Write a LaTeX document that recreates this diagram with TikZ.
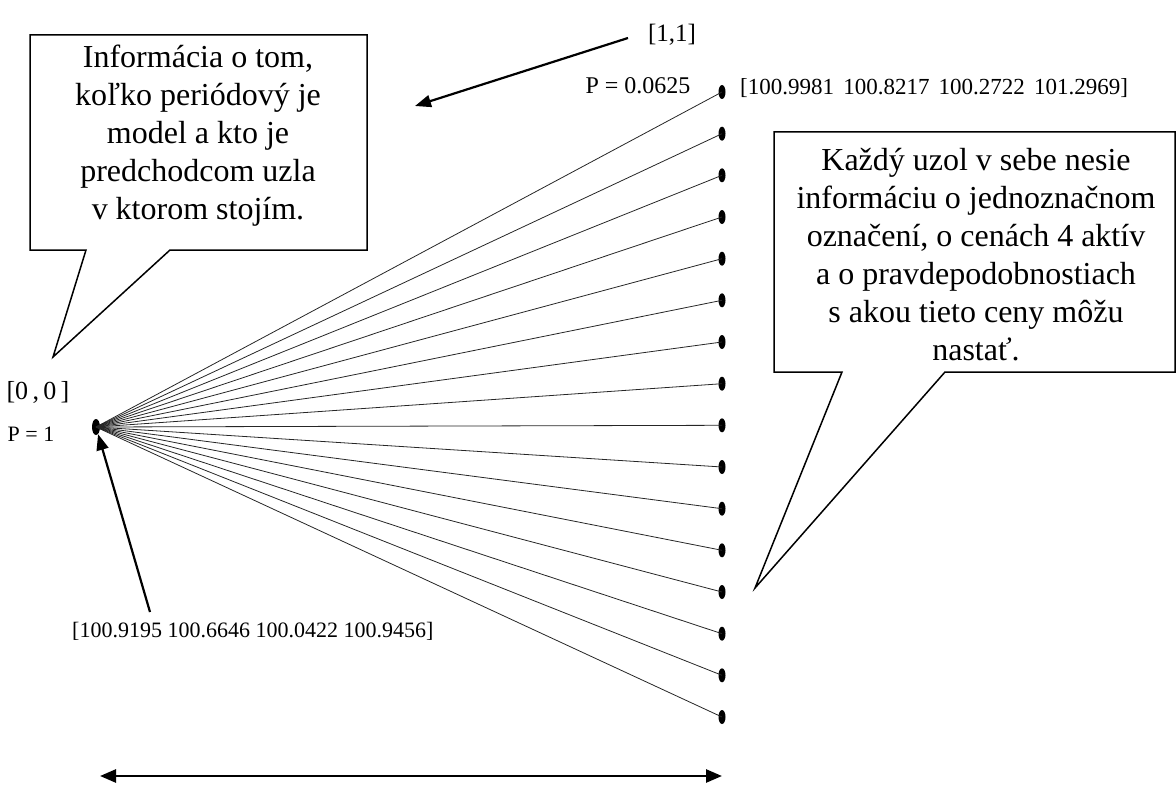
\documentclass[tikz,border=0pt]{standalone}
\usepackage{fontspec}
\setmainfont{Liberation Serif}
\usetikzlibrary{shapes.geometric, arrows.meta}

\begin{document}
\begin{tikzpicture}[x=1pt, y=-1pt,
    dot/.style={ellipse, fill=black, inner sep=0pt, minimum width=7pt, minimum height=14pt},
    branch/.style={black!85, line width=0.8pt},
    pointer/.style={line width=2.2pt, -{Triangle[length=16pt, width=12pt]}},
    balloon/.style={draw, fill=white, line width=1.5pt, line join=miter},
    balloontext/.style={align=center, font=\fontsize{32}{38}\selectfont},
    smalltext/.style={font=\fontsize{23}{27}\selectfont, inner sep=0pt}]
    \useasboundingbox (0,0) rectangle (1176,789);

    % root and leaves
    \node[dot, minimum width=8pt, minimum height=16pt] (0) at (96, 427) {};
    \node[dot] (1) at (722, 92) {};
    \node[dot] (2) at (722, 133.7) {};
    \node[dot] (3) at (722, 175.3) {};
    \node[dot] (4) at (722, 217) {};
    \node[dot] (5) at (722, 258.7) {};
    \node[dot] (6) at (722, 300.3) {};
    \node[dot] (7) at (722, 342) {};
    \node[dot] (8) at (722, 383.7) {};
    \node[dot] (9) at (722, 425.3) {};
    \node[dot] (10) at (722, 467) {};
    \node[dot] (11) at (722, 508.7) {};
    \node[dot] (12) at (722, 550.3) {};
    \node[dot] (13) at (722, 592) {};
    \node[dot] (14) at (722, 633.7) {};
    \node[dot] (15) at (722, 675.3) {};
    \node[dot] (16) at (722, 717) {};
    \foreach \i in {1,...,16}
        \draw[branch] (0.center) -- (\i.center);

    % labels
    \node[smalltext, font=\fontsize{26}{30}\selectfont] (root-id) at (38, 392) {[0\,,\,0\,]};
    \node[smalltext, font=\fontsize{22}{26}\selectfont] (root-p) at (31, 434) {P = 1};
    \node[smalltext, font=\fontsize{25}{29}\selectfont] (leaf-id) at (672, 35) {[1,1]};
    \node[smalltext, font=\fontsize{24}{28}\selectfont] (leaf-p) at (638, 86) {P = 0.0625};
    \node[smalltext, anchor=west] (leaf-val) at (740, 88) {[100.9981\hspace{0.4em}100.8217\hspace{0.4em}100.2722\hspace{0.4em}101.2969]};
    \node[smalltext, font=\fontsize{22}{26}\selectfont, anchor=west] (root-val) at (72, 631) {[100.9195 100.6646 100.0422 100.9456]};

    % arrows
    \coordinate (top-from) at (628, 38);
    \coordinate (top-to) at (415, 106);
    \draw[pointer] (top-from) -- (top-to);
    \coordinate (low-from) at (150, 612);
    \draw[pointer] (low-from) -- (0);
    \coordinate (span-l) at (100, 776);
    \coordinate (span-r) at (722, 776);
    \draw[line width=2.6pt, {Triangle[length=16pt, width=13pt]}-{Triangle[length=16pt, width=13pt]}] (span-l) -- (span-r);

    % balloons
    \draw[balloon] (30, 35) -- (367, 35) -- (367, 250) -- (170, 250) -- (53, 357) -- (86, 250) -- (30, 250) -- cycle;
    \node[balloontext] (info) at (198, 136) {Informácia o tom,\\koľko periódový je\\model a kto je\\predchodcom uzla\\v ktorom stojím.};
    \draw[balloon] (774, 132) -- (1175, 132) -- (1175, 372) -- (945, 372) -- (755, 588) -- (842, 372) -- (774, 372) -- cycle;
    \node[balloontext] (node-info) at (976, 255) {Každý uzol v sebe nesie\\informáciu o jednoznačnom\\označení, o cenách 4 aktív\\a o pravdepodobnostiach\\s akou tieto ceny môžu\\nastať.};
\end{tikzpicture}
\end{document}
